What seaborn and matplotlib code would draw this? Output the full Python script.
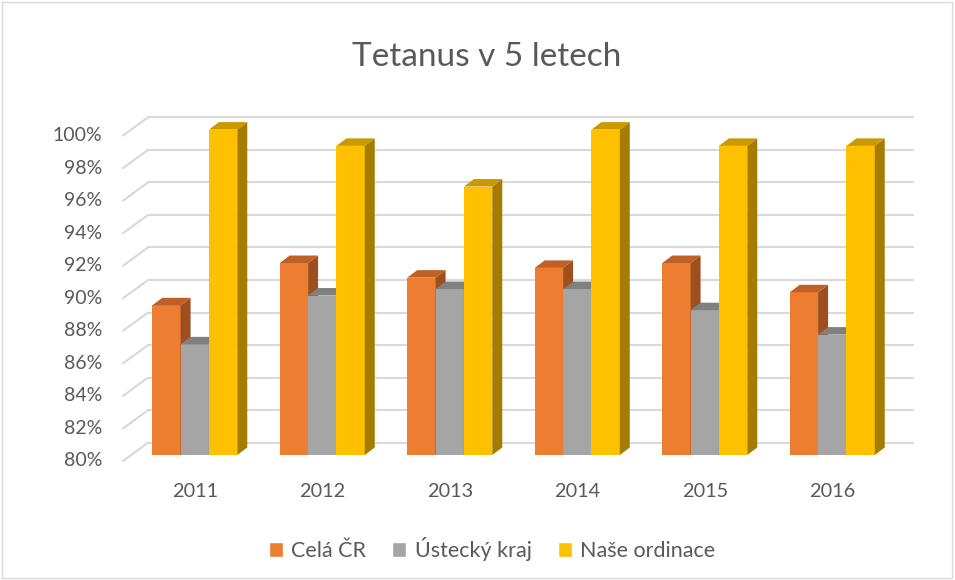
import matplotlib
matplotlib.use("Agg")
import numpy as np
import pandas as pd
import matplotlib.pyplot as plt
import seaborn as sns
from matplotlib.patches import Polygon, Rectangle
from matplotlib.transforms import ScaledTranslation

# Data (percent)
years = ["2011", "2012", "2013", "2014", "2015", "2016"]
series = ["Celá ČR", "Ústecký kraj", "Naše ordinace"]
cela_cr = [89.2, 91.8, 90.9, 91.5, 91.8, 90.0]
ustecky = [86.8, 89.8, 90.2, 90.2, 88.9, 87.4]
nase = [100.0, 99.0, 96.5, 100.0, 99.0, 99.0]
yticks = list(range(80, 101, 2))

front_colors = ["#ED7D31", "#A5A5A5", "#FFC000"]
top_colors = ["#BF6027", "#808080", "#C89900"]
side_colors = ["#9E4F1E", "#6C6C6C", "#A67C00"]
text_color = "#595959"
grid_color = "#D9D9D9"

df = pd.DataFrame({
    "year": years * 3,
    "series": np.repeat(series, len(years)),
    "value": cela_cr + ustecky + nase,
})

sns.set_theme(style="white")
plt.rcParams["font.family"] = ["Lato", "DejaVu Sans"]

fig = plt.figure(figsize=(9.55, 5.8), dpi=100)
ax = fig.add_axes([131 / 955, 125 / 580, 765 / 955, 325.4 / 580])

sns.barplot(data=df, x="year", y="value", hue="series", palette=front_colors,
            width=0.667, saturation=1, ax=ax)
ax.set_xlim(-0.5, 5.5)
ax.set_ylim(80, 100)

# pixel -> data unit conversion for the fake 3D depth
px_x = (ax.transData.transform((1, 80))[0] - ax.transData.transform((0, 80))[0])
px_y = (ax.transData.transform((0, 81))[1] - ax.transData.transform((0, 80))[1])
dx, dy = 10 / px_x, 7.5 / px_y        # bar depth
fdx, fdy = 8 / px_x, 6 / px_y         # front edge of the floor
bdx, bdy = 17 / px_x, 12.3 / px_y     # back wall

# back-wall gridlines with diagonal side-wall part
x0, x1 = ax.get_xlim()
for v in yticks:
    ax.plot([x0 - fdx, x0 + bdx], [v - fdy, v + bdy], color=grid_color, lw=1.5,
            clip_on=False, zorder=0.5)
    ax.plot([x0 + bdx, x1 + bdx], [v + bdy, v + bdy], color=grid_color, lw=1.5,
            clip_on=False, zorder=0.5)
    ax.text(x0, v, f"{v}%", ha="right", va="center", fontsize=14, color=text_color,
            transform=ax.transData + ScaledTranslation(-0.29, -0.06, fig.dpi_scale_trans))

# extrude the bars
for k, cont in enumerate(ax.containers):
    for bar in cont:
        h = bar.get_height()
        bar.set_y(80)
        bar.set_height(h - 80)
        bar.set_clip_on(False)
        bar.set_zorder(3 + 3 * k)
        bar.set_edgecolor("none")
        xl = bar.get_x()
        xr = xl + bar.get_width()
        side = Polygon([(xr, 80), (xr, h), (xr + dx, h + dy), (xr + dx, 80 + dy)],
                       closed=True, facecolor=side_colors[k], edgecolor="none",
                       clip_on=False, zorder=4 + 3 * k)
        top = Polygon([(xl, h), (xr, h), (xr + dx, h + dy), (xl + dx, h + dy)],
                      closed=True, facecolor=top_colors[k], edgecolor="none",
                      clip_on=False, zorder=4.5 + 3 * k)
        ax.add_patch(side)
        ax.add_patch(top)

ax.set_yticks([])
ax.set_xlabel("")
ax.set_ylabel("")
ax.tick_params(axis="x", length=0, pad=20, labelsize=14.3, labelcolor=text_color)
for s in ax.spines.values():
    s.set_visible(False)
ax.patch.set_alpha(0)

handles, labels = ax.get_legend_handles_labels()
ax.get_legend().remove()
fig.legend(handles, labels, loc="center", bbox_to_anchor=(492 / 955, 1 - 549 / 580),
           ncol=3, frameon=False, handlelength=0.65, handleheight=0.65,
           handletextpad=0.4, columnspacing=1.2, fontsize=15.5, labelcolor=text_color)

fig.text(487 / 955, 1 - 57 / 580, "Tetanus v 5 letech", ha="center", va="center",
         fontsize=24, color=text_color)

fig.patches.append(Rectangle((0.002, 0.003), 0.995, 0.993, transform=fig.transFigure,
                             fill=False, edgecolor=grid_color, lw=1))

fig.savefig("out.png", dpi=100)
